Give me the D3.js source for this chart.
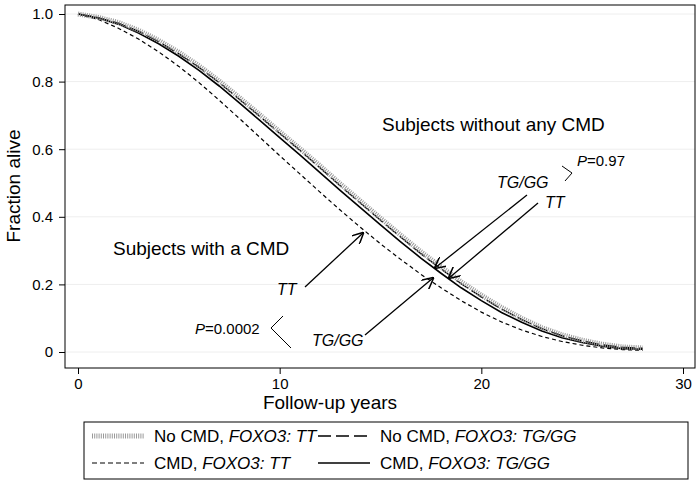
<!DOCTYPE html>
<html><head><meta charset="utf-8">
<script src="https://cdn.jsdelivr.net/npm/d3@7"></script>
<style>body{margin:0;background:#fff}text{font-family:"Liberation Sans",Arial,sans-serif}</style>
</head><body><div id="chart"></div>
<script>
const years = [0,1,2,3,4,5,6,7,8,9,10,11,12,13,14,15,16,17,18,19,20,21,22,23,24,25,26,27,28];
const noCmdTT = [1,0.99,0.975,0.952,0.922,0.887,0.847,0.802,0.753,0.703,0.652,0.602,0.551,0.498,0.447,0.396,0.346,0.297,0.252,0.208,0.168,0.132,0.1,0.072,0.051,0.035,0.023,0.015,0.012];
const noCmdTGGG = [1,0.989,0.973,0.949,0.918,0.882,0.842,0.797,0.748,0.698,0.647,0.597,0.545,0.492,0.441,0.39,0.34,0.291,0.246,0.202,0.163,0.127,0.096,0.069,0.048,0.033,0.021,0.014,0.011];
const cmdTGGG = [1,0.988,0.97,0.944,0.912,0.875,0.833,0.787,0.737,0.686,0.634,0.583,0.531,0.478,0.427,0.376,0.326,0.278,0.233,0.19,0.152,0.117,0.088,0.062,0.042,0.028,0.017,0.01,0.008];
const cmdTT = [1,0.984,0.958,0.926,0.888,0.845,0.797,0.745,0.691,0.636,0.581,0.527,0.473,0.42,0.369,0.32,0.274,0.23,0.19,0.152,0.118,0.089,0.065,0.046,0.031,0.02,0.012,0.007,0.005];
const xTicks = [0,10,20,30];
const yTicks = [0,0.2,0.4,0.6,0.8,1.0];
const yTickLabels = ["0","0.2","0.4","0.6","0.8","1.0"];

const W = 700, H = 485;
const svg = d3.select("#chart").append("svg").attr("width", W).attr("height", H);
const L = 65, R = 695, T = 5, B = 368;
const x = d3.scaleLinear().domain([0, 30]).range([78, 683]);
const y = d3.scaleLinear().domain([0, 1]).range([352, 14]);

// grid
svg.selectAll(".grid").data(yTicks).enter().append("line")
  .attr("x1", L).attr("x2", R).attr("y1", d => y(d)).attr("y2", d => y(d))
  .attr("stroke", "#eee").attr("stroke-width", 1);

svg.append("g").attr("transform", `translate(0,${B})`)
  .call(d3.axisBottom(x).tickValues(xTicks).tickSize(6).tickPadding(4))
  .call(g => g.select(".domain").remove())
  .selectAll("text").attr("font-size", 15).attr("fill", "#000");
svg.append("g").attr("transform", `translate(${L},0)`)
  .call(d3.axisLeft(y).tickValues(yTicks).tickFormat((d, i) => yTickLabels[i]).tickSize(6).tickPadding(6))
  .call(g => g.select(".domain").remove())
  .selectAll("text").attr("font-size", 15).attr("fill", "#000");
svg.append("rect").attr("x", L).attr("y", T).attr("width", R - L).attr("height", B - T)
  .attr("fill", "none").attr("stroke", "#000").attr("stroke-width", 1);

svg.append("text").attr("x", 330).attr("y", 409).attr("text-anchor", "middle").attr("font-size", 19).text("Follow-up years");
svg.append("text").attr("transform", "translate(20,186) rotate(-90)").attr("text-anchor", "middle").attr("font-size", 19).text("Fraction alive");

const line = vals => d3.line().x((d, i) => x(years[i])).y(d => y(d))(vals);
svg.append("path").attr("d", line(cmdTT)).attr("fill", "none").attr("stroke", "#000").attr("stroke-width", 1.2).attr("stroke-dasharray", "4,3");
svg.append("path").attr("d", line(cmdTGGG)).attr("fill", "none").attr("stroke", "#000").attr("stroke-width", 1.6);
svg.append("path").attr("d", line(noCmdTGGG)).attr("fill", "none").attr("stroke", "#000").attr("stroke-width", 1.4).attr("stroke-dasharray", "14,4");
svg.append("path").attr("d", line(noCmdTT)).attr("fill", "none").attr("stroke", "#999").attr("stroke-width", 5).attr("stroke-dasharray", "1,1.2");

// annotations
const txt = (t, px, py, size, it) => svg.append("text").attr("x", px).attr("y", py).attr("font-size", size).attr("font-style", it ? "italic" : "normal").text(t);
txt("Subjects without any CMD", 382, 131, 19);
txt("Subjects with a CMD", 113, 255, 19);
txt("TT", 277, 295, 16, true);
txt("TG/GG", 312, 346, 16, true);
txt("TG/GG", 497, 188, 16, true);
txt("TT", 545, 208, 16, true);
const ptxt = (v, px, py) => { const t = svg.append("text").attr("x", px).attr("y", py).attr("font-size", 15);
  t.append("tspan").attr("font-style", "italic").text("P"); t.append("tspan").text("=" + v); };
ptxt("0.97", 577, 166);
ptxt("0.0002", 195, 334);

svg.append("defs").append("marker").attr("id", "ah").attr("viewBox", "0 0 10 10").attr("refX", 9).attr("refY", 5)
  .attr("markerWidth", 9).attr("markerHeight", 9).attr("orient", "auto")
  .append("path").attr("d", "M0,0L10,5L0,10").attr("fill", "none").attr("stroke", "#000").attr("stroke-width", 1.3);
const arrows = [[527,195,435,268],[538,203,449,278],[305,287,363,233],[365,335,433,278]];
svg.selectAll(".arr").data(arrows).enter().append("line")
  .attr("x1", d => d[0]).attr("y1", d => d[1]).attr("x2", d => d[2]).attr("y2", d => d[3])
  .attr("stroke", "#000").attr("stroke-width", 1.3).attr("marker-end", "url(#ah)");
svg.append("polyline").attr("points", "562,166 572,173 565,181").attr("fill", "none").attr("stroke", "#000");
svg.append("polyline").attr("points", "283,316 271,328 291,348").attr("fill", "none").attr("stroke", "#000");

// legend
svg.append("rect").attr("x", 84).attr("y", 422).attr("width", 604).attr("height", 57).attr("fill", "none").attr("stroke", "#000");
const legend = [
  {x: 92, y: 442, style: "hatch", pre: "No CMD, ", it: "FOXO3: TT"},
  {x: 318, y: 442, style: "long", pre: "No CMD, ", it: "FOXO3: TG/GG"},
  {x: 92, y: 469, style: "short", pre: "CMD, ", it: "FOXO3: TT"},
  {x: 318, y: 469, style: "solid", pre: "CMD, ", it: "FOXO3: TG/GG"}];
legend.forEach(d => {
  const l = svg.append("line").attr("x1", d.x).attr("x2", d.x + 52).attr("y1", d.y - 6).attr("y2", d.y - 6).attr("fill", "none");
  if (d.style === "hatch") l.attr("stroke", "#999").attr("stroke-width", 5).attr("stroke-dasharray", "1,1.2");
  else if (d.style === "long") l.attr("stroke", "#000").attr("stroke-width", 1.3).attr("stroke-dasharray", "13,5");
  else if (d.style === "short") l.attr("stroke", "#000").attr("stroke-width", 1.2).attr("stroke-dasharray", "5,3");
  else l.attr("stroke", "#000").attr("stroke-width", 1.4);
  const t = svg.append("text").attr("x", d.x + 62).attr("y", d.y).attr("font-size", 17);
  t.append("tspan").text(d.pre); t.append("tspan").attr("font-style", "italic").text(d.it);
});
</script></body></html>
